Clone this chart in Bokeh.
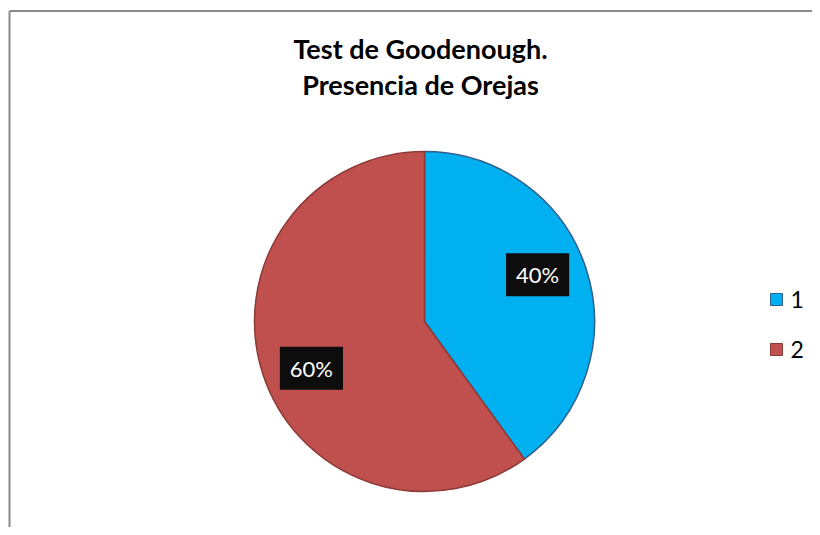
import math
from bokeh.plotting import figure
from bokeh.models import Range1d, ColumnDataSource
from bokeh.core.properties import value
from bokeh.embed import file_html
from bokeh.resources import INLINE

# data
categories = ["1", "2"]
values = [40, 60]
fill_colors = ["#00B0F0", "#C0504D"]
line_colors = ["#2F5F8F", "#8C3A38"]
title_lines = ["Test de Goodenough.", "Presencia de Orejas"]

W, H = 812, 527
p = figure(width=W, height=H, x_range=Range1d(0, W), y_range=Range1d(0, H),
           min_border=0, toolbar_location=None, output_backend="svg")
p.axis.visible = False
p.grid.visible = False
p.outline_line_color = None
p.background_fill_color = "white"
p.border_fill_color = "white"

# chart area border (left + top; the rest lies beyond the page)
p.segment(x0=[9, 9], y0=[0, 516.5], x1=[9, W], y1=[516.5, 516.5],
          line_color="#8A8A8A", line_width=2)

# pie
cx, cy, R = 424, 206, 170
total = sum(values)
starts, ends, lx, ly, labels = [], [], [], [], []
a = math.pi / 2
for v in values:
    sweep = 2 * math.pi * v / total
    starts.append(a)
    ends.append(a - sweep)
    mid = a - sweep / 2 + math.radians(4.5)
    lx.append(cx + 0.72 * R * math.cos(mid))
    ly.append(cy + 0.72 * R * math.sin(mid))
    labels.append(f"{round(100 * v / total)}%")
    a -= sweep

src = ColumnDataSource(dict(start=starts, end=ends, fill=fill_colors, line=line_colors,
                            lx=lx, ly=ly, label=labels, cat=categories))
p.wedge(x=cx, y=cy, radius=R, start_angle="start", end_angle="end", direction="clock",
        fill_color="fill", line_color="line", line_width=1.5, source=src)

p.text(x="lx", y="ly", text="label", source=src, text_color="white",
       text_font=value("Lato"), text_font_size="22px", text_align="center",
       text_baseline="middle", background_fill_color="#0D0D0D",
       padding=[10, 10, 8, 8])

# title
p.text(x=[420, 420], y=[527 - 48, 527 - 84], text=title_lines,
       text_font=value("Lato"), text_font_style="bold", text_font_size="27px",
       text_color="black", text_align="center", text_baseline="middle")

# legend
leg_y = [527 - 299, 527 - 349]
p.scatter(x=[776, 776], y=leg_y, marker="square", size=12,
          fill_color=fill_colors, line_color=line_colors, line_width=1)
p.text(x=[790, 790], y=leg_y, text=categories, text_font=value("Lato"),
       text_font_size="23px", text_color="black", text_baseline="middle")

open("out.html", "w").write(file_html(p, INLINE))
